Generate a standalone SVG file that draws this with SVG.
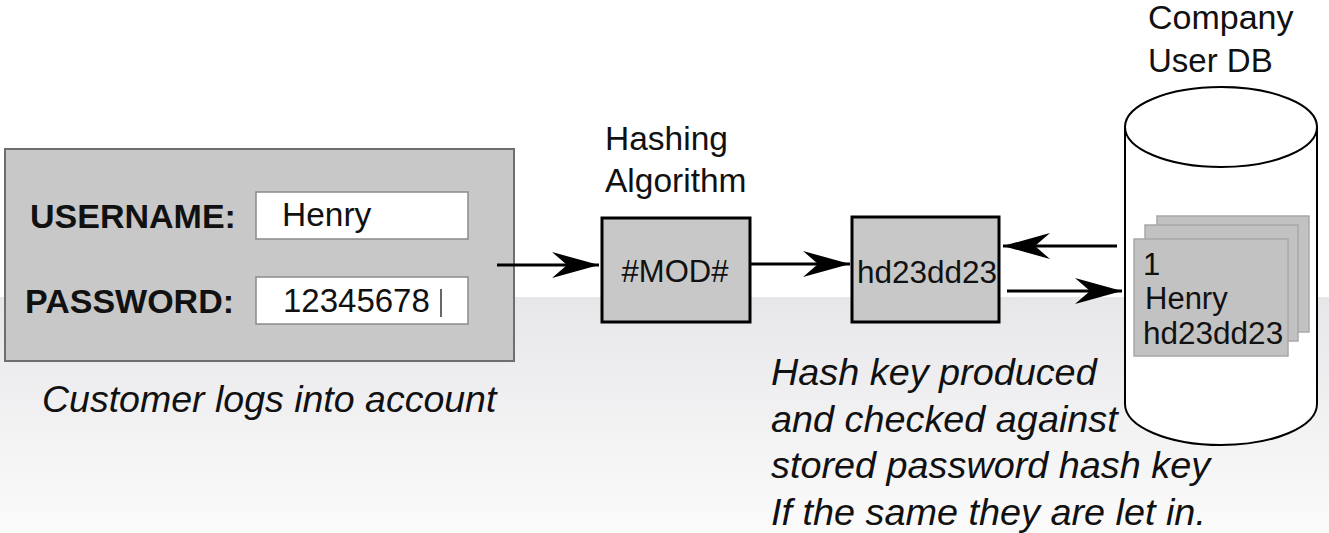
<svg xmlns="http://www.w3.org/2000/svg" width="1329" height="533" viewBox="0 0 1329 533">
<defs>
<linearGradient id="bg" x1="0" y1="0" x2="0" y2="1">
<stop offset="0" stop-color="#e7e7ea"/>
<stop offset="1" stop-color="#fbfbfb"/>
</linearGradient>
<marker id="ah" markerWidth="50" markerHeight="30" viewBox="-50 -15 50 30" refX="0" refY="0" orient="auto" markerUnits="userSpaceOnUse">
<path d="M0,0 L-47,-13 L-32,0 L-47,13 Z" fill="#000"/>
</marker>
<style>
text{font-family:"Liberation Sans",Arial,sans-serif;fill:#111}
.lbl{font-size:33.5px}
.bold{font-size:34px;font-weight:bold}
.it{font-size:37.8px;font-style:italic}
.gbox{fill:#c8c8c8;stroke:#000;stroke-width:3}
.field{fill:#fff;stroke:#8a8a8a;stroke-width:1.5}
.card{fill:#c2c2c2;stroke:#a8a8a8;stroke-width:1.5}
.conn{stroke:#000;stroke-width:3;fill:none;marker-end:url(#ah)}
</style>
</defs>
<rect x="0" y="0" width="1329" height="533" fill="#fff"/>
<rect x="0" y="297" width="1329" height="236" fill="url(#bg)"/>

<g id="login">
<rect x="5" y="149" width="509" height="212" fill="#c8c8c8" stroke="#6e6e6e" stroke-width="2"/>
<text class="bold" x="30" y="228">USERNAME:</text>
<text class="bold" x="25" y="313">PASSWORD:</text>
<rect class="field" x="256" y="192" width="212" height="47"/>
<rect class="field" x="256" y="277" width="212" height="47"/>
<text class="lbl" x="282" y="226">Henry</text>
<text class="lbl" x="283" y="312" style="font-size:33px">12345678</text>
<line x1="441" y1="289" x2="441" y2="317" stroke="#333" stroke-width="1.5"/>
</g>
<text class="it" x="42" y="412" style="font-size:37.5px">Customer logs into account</text>

<g id="hashing">
<text class="lbl" x="605" y="150">Hashing</text>
<text class="lbl" x="605" y="192">Algorithm</text>
<rect class="gbox" x="602" y="218" width="148" height="104"/>
<text class="lbl" x="675" y="282" text-anchor="middle" style="font-size:31px">#MOD#</text>
</g>

<g id="hashkey">
<rect class="gbox" x="852" y="217" width="147" height="105"/>
<text class="lbl" x="927" y="283" text-anchor="middle" style="font-size:31.5px">hd23dd23</text>
</g>
<g id="note">
<text class="it" x="771" y="385">Hash key produced</text>
<text class="it" x="771" y="432">and checked against</text>
<text class="it" x="771" y="478">stored password hash key</text>
<text class="it" x="771" y="525">If the same they are let in.</text>
</g>

<g id="db">
<text class="lbl" x="1148" y="29" style="font-size:34px">Company</text>
<text class="lbl" x="1148" y="72" style="font-size:33px">User DB</text>
<path d="M1125,127 L1125,404 A96,41 0 0 0 1317,404 L1317,127" fill="#fff" stroke="#000" stroke-width="2"/>
<ellipse cx="1221" cy="127" rx="96" ry="40" fill="#fff" stroke="#000" stroke-width="2"/>
<rect class="card" x="1157" y="216" width="152" height="116"/>
<rect class="card" x="1145" y="225" width="153" height="116"/>
<rect class="card" x="1134" y="239" width="154" height="117"/>
<text class="lbl" x="1143" y="275" style="font-size:31px">1</text>
<text class="lbl" x="1145" y="309" style="font-size:31px">Henry</text>
<text class="lbl" x="1143" y="344" style="font-size:31.5px">hd23dd23</text>
</g>

<g id="connectors">
<line class="conn" x1="497" y1="265" x2="599" y2="265"/>
<line class="conn" x1="750" y1="264" x2="850" y2="264"/>
<line class="conn" x1="1117" y1="246" x2="1003" y2="246"/>
<line class="conn" x1="1007" y1="291" x2="1122" y2="291"/>
</g>
</svg>
